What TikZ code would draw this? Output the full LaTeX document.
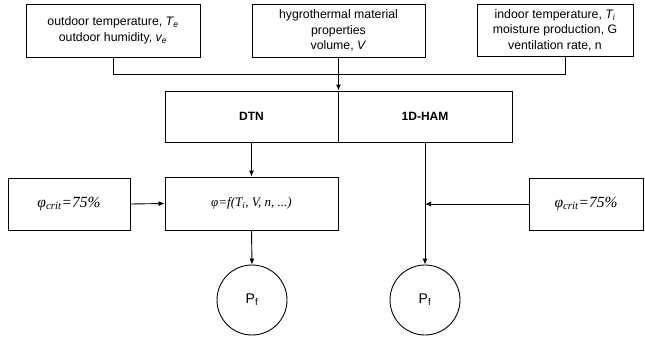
\documentclass[tikz,border=0pt]{standalone}
\usepackage{fontspec}
\setmainfont{Liberation Sans}
\newfontfamily\serifit{Liberation Serif}
\usetikzlibrary{arrows.meta}
\begin{document}
\begin{tikzpicture}[x=1pt,y=1pt,
  box/.style={draw,line width=0.9pt,inner sep=0pt,align=center,font=\fontsize{12.3}{15.5}\selectfont},
  circ/.style={draw,line width=0.9pt,circle,minimum size=70pt,inner sep=0pt,font=\fontsize{14}{16}\selectfont},
  conn/.style={line width=0.9pt},
  arr/.style={line width=0.9pt,-{Latex[length=6pt,width=5pt]}},
  ser/.style={font=\serifit\itshape\fontsize{13}{15}\selectfont},
  crit/.style={font=\serifit\itshape\fontsize{15.5}{17}\selectfont}]
\useasboundingbox (0,0) rectangle (645,-338);
\node[box,minimum width=174pt,minimum height=53pt] (b1) at (113,-30.5)
  {outdoor temperature, \textit{T\textsubscript{e}}\\outdoor humidity, \textit{v\textsubscript{e}}};
\node[box,minimum width=173pt,minimum height=53pt] (b2) at (338.5,-30.5)
  {hygrothermal material\\properties\\volume, \textit{V}};
\node[box,minimum width=156pt,minimum height=52pt] (b3) at (555,-30)
  {indoor temperature, \textit{T\textsubscript{i}}\\moisture production, G\\ventilation rate, n};
\node[box,minimum width=173pt,minimum height=51pt,font=\bfseries\fontsize{12}{14}\selectfont] (dtn) at (251.5,-116.5) {DTN};
\node[box,minimum width=174pt,minimum height=51pt,font=\bfseries\fontsize{12}{14}\selectfont] (ham) at (425,-116.5) {1D-HAM};
\node[box,ser,minimum width=173pt,minimum height=53pt] (phi) at (251.5,-203.5)
  {φ=f(T\textsubscript{i}, V, n, ...)};
\node[box,crit,minimum width=122pt,minimum height=52pt] (cl) at (69,-204)
  {φ\textsubscript{crit}=75\%};
\node[box,crit,minimum width=114pt,minimum height=52pt] (cr) at (586,-204)
  {φ\textsubscript{crit}=75\%};
\node[circ] (p1) at (252,-300) {P\textsubscript{f}};
\node[circ] (p2) at (425,-300) {P\textsubscript{f}};
\coordinate (c3) at (565,-56);
\coordinate (j) at (425,-204);
\draw[conn] (b1.south) -- ++(0,-17) -| (c3);
\draw[arr] (b2.south) -- (b2.south |- dtn.north);
\draw[arr] (dtn.south) -- (phi.north);
\draw[arr] (phi.south) -- (p1.north);
\draw[arr] (ham.south) -- (p2.north);
\draw[arr] (cl.east) -- (phi.west);
\draw[arr] (cr.west) -- (j);
\end{tikzpicture}
\end{document}
